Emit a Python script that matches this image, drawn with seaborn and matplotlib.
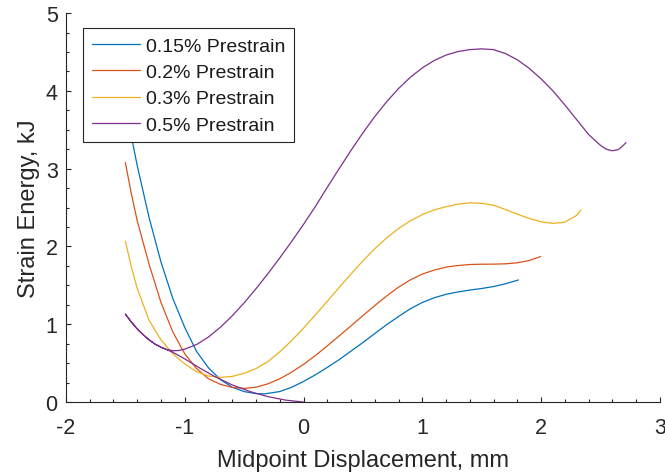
import matplotlib
matplotlib.use("Agg")
import matplotlib.pyplot as plt
from matplotlib.ticker import MultipleLocator
import pandas as pd
import seaborn as sns

labels = ['0.15% Prestrain', '0.2% Prestrain', '0.3% Prestrain', '0.5% Prestrain']
colors = ['#0072BD', '#D95319', '#EDB120', '#7E2F8E']

x_015 = [-1.5, -1.4, -1.3, -1.2, -1.1, -1.0, -0.9, -0.8, -0.7, -0.6, -0.5, -0.4, -0.33,
         -0.2, -0.1, 0.0, 0.1, 0.2, 0.3, 0.4, 0.5, 0.6, 0.7, 0.8, 0.9, 1.0, 1.1, 1.2,
         1.3, 1.4, 1.5, 1.6, 1.7, 1.8, 1.81]
y_015 = [3.80, 3.04, 2.37, 1.80, 1.33, 0.96, 0.65, 0.44, 0.29, 0.19, 0.135, 0.108, 0.105,
         0.135, 0.19, 0.265, 0.35, 0.445, 0.545, 0.655, 0.765, 0.88, 0.995, 1.10, 1.20,
         1.28, 1.34, 1.385, 1.415, 1.44, 1.46, 1.485, 1.52, 1.565, 1.57]

x_02 = [-1.5, -1.45, -1.4, -1.3, -1.2, -1.1, -1.0, -0.9, -0.8, -0.7, -0.6, -0.5, -0.4,
        -0.3, -0.2, -0.1, 0.0, 0.1, 0.2, 0.3, 0.4, 0.5, 0.6, 0.7, 0.8, 0.9, 1.0, 1.1,
        1.2, 1.3, 1.4, 1.5, 1.6, 1.7, 1.8, 1.9, 1.996]
y_02 = [3.08, 2.68, 2.33, 1.77, 1.28, 0.90, 0.62, 0.43, 0.30, 0.228, 0.188, 0.176, 0.191,
        0.234, 0.299, 0.384, 0.484, 0.598, 0.722, 0.85, 0.98, 1.111, 1.24, 1.364, 1.476,
        1.571, 1.645, 1.696, 1.735, 1.755, 1.768, 1.772, 1.773, 1.777, 1.79, 1.82, 1.87]

x_03 = [-1.5, -1.45, -1.4, -1.3, -1.2, -1.1, -1.0, -0.9, -0.8, -0.7, -0.6, -0.5, -0.4,
        -0.3, -0.2, -0.1, 0.0, 0.1, 0.2, 0.3, 0.4, 0.5, 0.6, 0.7, 0.8, 0.9, 1.0, 1.1,
        1.2, 1.3, 1.4, 1.5, 1.6, 1.7, 1.8, 1.9, 2.0, 2.1, 2.2, 2.3, 2.336]
y_03 = [2.07, 1.74, 1.46, 1.05, 0.80, 0.62, 0.49, 0.39, 0.335, 0.317, 0.33, 0.37, 0.43,
        0.52, 0.645, 0.79, 0.95, 1.12, 1.295, 1.472, 1.646, 1.815, 1.971, 2.11, 2.23,
        2.33, 2.41, 2.47, 2.511, 2.545, 2.56, 2.555, 2.53, 2.475, 2.415, 2.36, 2.317,
        2.297, 2.312, 2.40, 2.47]

# 0.5 %: loading branch from the origin out to -1.5 mm, then the return branch
x_05_load = [0.0, -0.15, -0.3, -0.45, -0.6, -0.75, -0.877, -1.0, -1.1, -1.2, -1.25,
             -1.3, -1.35, -1.4, -1.45]
y_05_load = [0.0, 0.025, 0.07, 0.135, 0.22, 0.33, 0.44, 0.555, 0.64, 0.705, 0.745,
             0.80, 0.865, 0.94, 1.03]
x_05 = [-1.5, -1.45, -1.4, -1.35, -1.3, -1.25, -1.2, -1.15, -1.1, -1.05, -1.0, -0.9,
        -0.8, -0.7, -0.6, -0.5, -0.4, -0.3, -0.2, -0.1, 0.0, 0.1, 0.2, 0.3, 0.4, 0.5,
        0.6, 0.7, 0.8, 0.9, 1.0, 1.1, 1.2, 1.3, 1.4, 1.5, 1.6, 1.7, 1.8, 1.9, 2.0,
        2.1, 2.2, 2.3, 2.4, 2.5, 2.55, 2.6, 2.65, 2.68, 2.715]
y_05 = [1.13, 1.03, 0.94, 0.865, 0.80, 0.745, 0.705, 0.675, 0.66, 0.663, 0.68, 0.74,
        0.836, 0.961, 1.109, 1.275, 1.457, 1.65, 1.852, 2.064, 2.284, 2.514, 2.76, 3.0,
        3.235, 3.46, 3.67, 3.86, 4.03, 4.175, 4.295, 4.39, 4.46, 4.505, 4.53, 4.54, 4.53,
        4.48, 4.40, 4.29, 4.155, 4.0, 3.82, 3.63, 3.44, 3.30, 3.25, 3.23, 3.245, 3.28,
        3.335]

series = [
    (labels[0], x_015, y_015),
    (labels[1], x_02, y_02),
    (labels[2], x_03, y_03),
    (labels[3], x_05_load + x_05, y_05_load + y_05),
]
frames = []
for name, xs, ys in series:
    frames.append(pd.DataFrame({'disp': xs, 'energy': ys, 'case': name}))
df = pd.concat(frames, ignore_index=True)

sns.set_style("ticks")
plt.rcParams['font.family'] = ['Liberation Sans', 'DejaVu Sans']
plt.rcParams['axes.unicode_minus'] = False

fig = plt.figure(figsize=(6.65, 4.77), dpi=100)
ax = fig.add_axes([0.0992, 0.155, 0.893, 0.8155])

sns.lineplot(data=df, x='disp', y='energy', hue='case', hue_order=labels,
             palette=colors, sort=False, estimator=None, linewidth=0.9, ax=ax)

ax.set_xlim(-2, 3)
ax.set_ylim(0, 5)
ax.xaxis.set_major_locator(MultipleLocator(1))
ax.xaxis.set_minor_locator(MultipleLocator(0.2))
ax.yaxis.set_major_locator(MultipleLocator(1))
ax.yaxis.set_minor_locator(MultipleLocator(0.25))

axis_col = '#262626'
for side in ['top', 'right']:
    ax.spines[side].set_visible(False)
for side in ['left', 'bottom']:
    ax.spines[side].set_color(axis_col)
    ax.spines[side].set_linewidth(0.8)
ax.tick_params(which='both', direction='in', color=axis_col, labelcolor=axis_col, width=0.8)
ax.tick_params(which='major', length=3.6, labelsize=15.5)
ax.tick_params(which='minor', length=2.2)
ax.tick_params(axis='x', which='major', pad=11)
ax.tick_params(axis='y', which='major', pad=6)

ax.set_xlabel('Midpoint Displacement, mm', fontsize=17, color=axis_col, labelpad=8)
ax.set_ylabel('Strain Energy, kJ', fontsize=17, color=axis_col, labelpad=4)

handles, _ = ax.get_legend_handles_labels()
leg = ax.legend(handles=handles, labels=labels, loc='upper left',
                bbox_to_anchor=(0.0286, 0.961), borderaxespad=0, fontsize=14,
                frameon=True, fancybox=False, framealpha=1, edgecolor=axis_col,
                handlelength=2.5, handletextpad=0.3, labelspacing=0.45, borderpad=0.45)
leg.get_frame().set_linewidth(0.8)
for t in leg.get_texts():
    t.set_color('#1a1a1a')

fig.savefig('out.png', dpi=100)
